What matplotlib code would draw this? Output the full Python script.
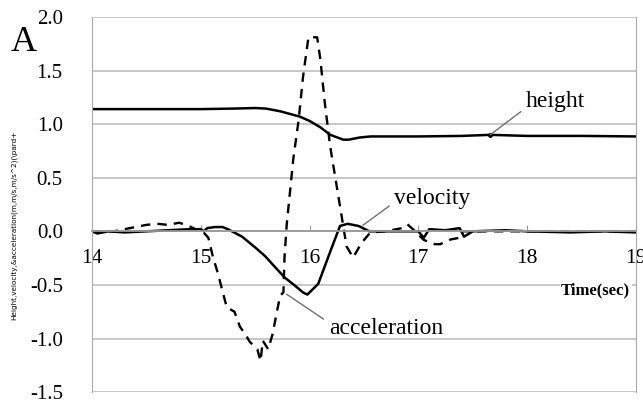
import numpy as np
import matplotlib
matplotlib.use("Agg")
from matplotlib import pyplot as plt

# height (m)
t_h = [14.0, 14.5, 15.0, 15.3, 15.5, 15.6, 15.73, 15.91, 16.0, 16.1, 16.19, 16.31, 16.36,
       16.46, 16.56, 17.0, 17.4, 17.66, 18.0, 18.5, 19.0]
h = [1.14, 1.14, 1.14, 1.145, 1.15, 1.145, 1.12, 1.07, 1.03, 0.97, 0.90, 0.855, 0.855,
     0.875, 0.885, 0.885, 0.89, 0.90, 0.89, 0.89, 0.885]

# velocity (m/s)
t_v = [14.0, 14.05, 14.15, 14.3, 14.5, 14.7, 14.9, 15.0, 15.03, 15.06, 15.13, 15.2, 15.25,
       15.38, 15.5, 15.59, 15.68, 15.77, 15.87, 15.94, 15.98, 16.02, 16.08, 16.19, 16.28,
       16.35, 16.45, 16.55, 16.8, 17.0, 17.05, 17.1, 17.25, 17.38, 17.42, 17.5, 17.8, 18.0,
       18.4, 18.7, 19.0]
v = [0.0, -0.02, 0.0, -0.01, 0.0, 0.01, 0.02, 0.02, 0.0, 0.03, 0.04, 0.04, 0.02,
     -0.05, -0.15, -0.23, -0.33, -0.43, -0.51, -0.57, -0.59, -0.55, -0.49, -0.19, 0.05,
     0.07, 0.05, 0.0, 0.0, 0.0, -0.06, 0.02, 0.01, 0.03, -0.05, 0.0, 0.01, 0.0,
     -0.01, 0.0, -0.01]

# acceleration (m/s^2)
t_a = [14.0, 14.2, 14.35, 14.5, 14.6, 14.7, 14.8, 14.87, 14.95, 15.0, 15.07, 15.11, 15.16,
       15.2, 15.24, 15.31, 15.36, 15.41, 15.45, 15.52, 15.55, 15.57, 15.62, 15.66, 15.70,
       15.73, 15.76, 15.77, 15.79, 15.85, 15.9, 15.94, 15.99, 16.07, 16.1, 16.14, 16.19,
       16.25, 16.3, 16.34, 16.4, 16.48, 16.56, 16.7, 16.85, 16.9, 16.95, 17.05, 17.15,
       17.2, 17.3, 17.38, 17.4, 17.7, 18.0, 19.0]
a = [0.0, 0.0, 0.03, 0.06, 0.07, 0.06, 0.08, 0.06, 0.02, 0.02, -0.06, -0.23, -0.40,
     -0.56, -0.71, -0.75, -0.89, -0.96, -1.03, -1.10, -1.21, -1.02, -1.10, -0.96, -0.75,
     -0.60, -0.57, -0.24, 0.06, 0.67, 1.04, 1.44, 1.81, 1.81, 1.6, 1.2, 0.79,
     0.42, 0.11, -0.14, -0.245, -0.105, -0.01, 0.0, 0.03, 0.065, 0.02, -0.08, -0.12,
     -0.12, -0.075, -0.06, 0.0, 0.0, 0.0, 0.0]

x_ticks = [14, 15, 16, 17, 18, 19]
y_ticks = [-1.5, -1.0, -0.5, 0.0, 0.5, 1.0, 1.5, 2.0]

plt.rcParams['font.family'] = ['Liberation Serif', 'DejaVu Serif']

fig = plt.figure(figsize=(6.43, 4.03), dpi=100)
ax = fig.add_axes([0.143, 0.027, 0.846, 0.931])

ax.plot(t_h, h, color='black', lw=1.8)
ax.plot(t_v, v, color='black', lw=1.8)
ax.plot(t_a, a, color='black', lw=1.7, ls=(0, (4, 3)))

ax.set_xlim(14, 19)
ax.set_ylim(-1.5, 2.0)
ax.set_xticks(x_ticks)
ax.set_xticklabels([str(x) for x in x_ticks])
ax.set_yticks(y_ticks)
ax.set_yticklabels(['%.1f' % y for y in y_ticks])
ax.yaxis.grid(True, color='#c4c4c4', lw=1.3)
ax.set_axisbelow(True)

for s in ['left', 'right', 'top']:
    ax.spines[s].set_color('#a8a8a8')
ax.spines['top'].set_visible(False)
ax.spines['bottom'].set_position(('data', 0))
ax.spines['bottom'].set_color('#9a9a9a')
ax.spines['bottom'].set_linewidth(1.3)
ax.tick_params(axis='x', direction='in', length=4, color='#9a9a9a', pad=13, labelsize=15.5)
ax.tick_params(axis='y', length=0, pad=21, labelsize=15)

arr = dict(arrowstyle='-', color='#707070', lw=1.0)
ax.annotate('height', xy=(17.66, 0.90), xytext=(18.26, 1.21), fontsize=17,
            ha='center', va='center', arrowprops=dict(arr, shrinkB=0, relpos=(0.0, 0.2)))
ax.plot([17.66], [0.90], marker='o', ms=2.5, color='black')
ax.annotate('velocity', xy=(16.49, 0.056), xytext=(17.13, 0.31), fontsize=17,
            ha='center', va='center', arrowprops=dict(arr, shrinkB=0, relpos=(0.0, 0.3)))
ax.annotate('acceleration', xy=(15.79, -0.587), xytext=(16.70, -0.91), fontsize=17,
            ha='center', va='center', arrowprops=dict(arr, shrinkB=0, relpos=(0.0, 0.8)))

ax.text(18.63, -0.55, 'Time(sec)', fontsize=12, fontweight='bold', ha='center', va='center',
        bbox=dict(facecolor='white', edgecolor='none', pad=1))

fig.text(0.022, 0.44, 'Height,velocity,&acceleration(m,m/s,m/s^2)(\\pard+', rotation=90,
         fontsize=5.2, ha='center', va='center', family=['DejaVu Sans'])
fig.text(0.037, 0.895, 'A', fontsize=26, ha='center', va='center')

fig.savefig('out.png')
